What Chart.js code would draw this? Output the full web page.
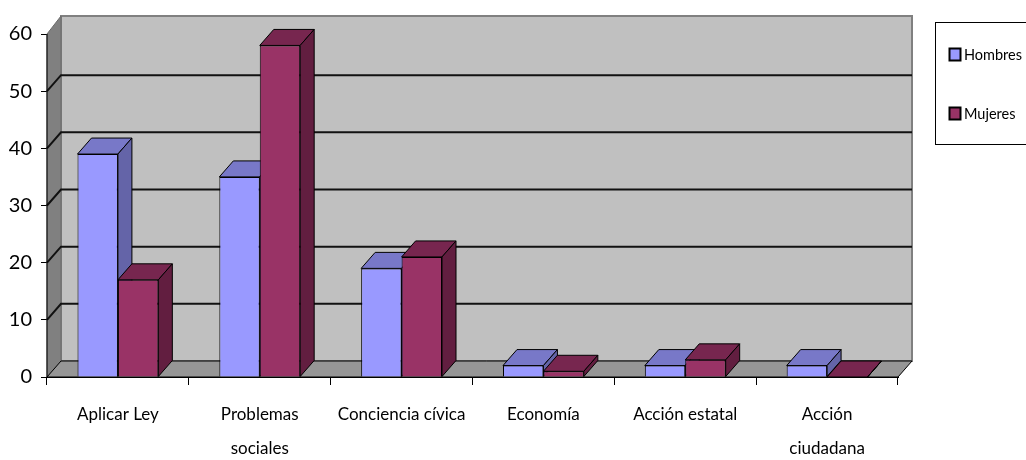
<!DOCTYPE html>
<html>
<head>
<meta charset="utf-8">
<title>Hombres / Mujeres</title>
<script src="https://cdn.jsdelivr.net/npm/chart.js@4/dist/chart.umd.min.js"></script>
<style>
  html, body { margin: 0; padding: 0; background: #fff; }
  #wrap { width: 1026px; height: 460px; }
</style>
</head>
<body>
<div id="wrap"><canvas id="chart" width="1026" height="460"></canvas></div>
<script>
// Data
const categories = [['Aplicar Ley'], ['Problemas', 'sociales'], ['Conciencia cívica'], ['Economía'], ['Acción estatal'], ['Acción', 'ciudadana']];
const seriesNames = ['Hombres', 'Mujeres'];
const hombres = [39, 35, 19, 2, 2, 2];
const mujeres = [17, 58, 21, 1, 3, 0];
const yTicks = [0, 10, 20, 30, 40, 50, 60];

const FONT = 'Lato, "Liberation Sans Narrow", sans-serif';
const DX = 14, DY = 16; // fake 3D depth
const frontColors = ['#9999ff', '#993366'];
const topColors = ['#7878c8', '#77264f'];
const sideColors = ['#6464a8', '#621e40'];

function poly(ctx, pts, fill, stroke, lw) {
    ctx.beginPath();
    ctx.moveTo(pts[0][0], pts[0][1]);
    for (let i = 1; i < pts.length; i++) ctx.lineTo(pts[i][0], pts[i][1]);
    ctx.closePath();
    if (fill) { ctx.fillStyle = fill; ctx.fill(); }
    if (stroke) { ctx.strokeStyle = stroke; ctx.lineWidth = lw || 1; ctx.stroke(); }
}

const depthPlugin = {
    id: 'depth',
    beforeDatasetsDraw(chart) {
        const ctx = chart.ctx;
        const a = chart.chartArea;
        const y = chart.scales.y;
        ctx.save();
        // back wall
        poly(ctx, [[a.left + DX, a.top - DY - 2], [a.right + DX, a.top - DY - 2], [a.right + DX, a.bottom - DY], [a.left + DX, a.bottom - DY]], '#c0c0c0', '#808080', 2);
        // left wall
        poly(ctx, [[a.left, a.bottom], [a.left, a.top], [a.left + DX, a.top - DY - 2], [a.left + DX, a.bottom - DY]], '#808080', '#6a6a6a', 1);
        // floor
        poly(ctx, [[a.left, a.bottom], [a.right, a.bottom], [a.right + DX, a.bottom - DY], [a.left + DX, a.bottom - DY]], '#969696', '#000', 1);
        // gridlines on walls
        ctx.strokeStyle = '#111';
        ctx.lineWidth = 2;
        yTicks.forEach(v => {
            if (v === 0 || v === 60) return;
            const py = y.getPixelForValue(v);
            ctx.beginPath();
            ctx.moveTo(a.left, py);
            ctx.lineTo(a.left + DX, py - DY);
            ctx.lineTo(a.right + DX, py - DY);
            ctx.stroke();
        });
        // front edge of left wall
        ctx.strokeStyle = '#000';
        ctx.lineWidth = 1;
        ctx.beginPath();
        ctx.moveTo(a.left, a.bottom);
        ctx.lineTo(a.left, a.top);
        ctx.stroke();

        // bar tops and sides, back to front per category
        chart.data.labels.forEach((_, i) => {
            chart.data.datasets.forEach((ds, d) => {
                const bar = chart.getDatasetMeta(d).data[i];
                const p = bar.getProps(['x', 'y', 'base', 'width'], true);
                const l = p.x - p.width / 2, r = p.x + p.width / 2;
                poly(ctx, [[l, p.y], [r, p.y], [r + DX, p.y - DY], [l + DX, p.y - DY]], topColors[d], '#000', 1);
                poly(ctx, [[r, p.y], [r + DX, p.y - DY], [r + DX, p.base - DY], [r, p.base]], sideColors[d], '#000', 1);
            });
        });
        ctx.restore();
    },
    afterDraw(chart) {
        // legend box
        const ctx = chart.ctx;
        ctx.save();
        ctx.fillStyle = '#fff';
        ctx.fillRect(935.5, 22.5, 100, 122);
        ctx.strokeStyle = '#000';
        ctx.lineWidth = 1;
        ctx.strokeRect(935.5, 22.5, 100, 122);
        ctx.font = '14.5px ' + FONT;
        ctx.textBaseline = 'middle';
        chart.data.datasets.forEach((ds, d) => {
            const cy = 55 + d * 59;
            ctx.fillStyle = ds.backgroundColor;
            ctx.fillRect(949.5, cy - 6.5, 11, 12);
            ctx.strokeStyle = '#000';
            ctx.lineWidth = 2;
            ctx.strokeRect(949.5, cy - 6.5, 11, 12);
            ctx.fillStyle = '#000';
            ctx.fillText(ds.label, 964, cy);
        });
        ctx.restore();
    }
};

new Chart(document.getElementById('chart'), {
    type: 'bar',
    data: {
        labels: categories,
        datasets: [
            { label: seriesNames[0], data: hombres, backgroundColor: frontColors[0], borderColor: '#000', borderWidth: 1 },
            { label: seriesNames[1], data: mujeres, backgroundColor: frontColors[1], borderColor: '#000', borderWidth: 1 }
        ]
    },
    options: {
        responsive: false,
        animation: false,
        categoryPercentage: 0.57,
        barPercentage: 1,
        layout: { padding: { top: 34, right: 128, left: 0, bottom: 0 } },
        plugins: {
            legend: { display: false },
            tooltip: { enabled: false }
        },
        scales: {
            x: {
                afterFit(scale) { scale.height = 83; },
                grid: { offset: true, drawOnChartArea: false, tickLength: 8, tickColor: '#000' },
                border: { color: '#000', width: 1 },
                ticks: {
                    color: '#000',
                    padding: 13,
                    maxRotation: 0,
                    autoSkip: false,
                    font: { family: FONT, size: 17, lineHeight: 2 }
                }
            },
            y: {
                min: 0,
                max: 60,
                afterFit(scale) { scale.width = 47; },
                afterBuildTicks(scale) { scale.ticks = yTicks.map(v => ({ value: v })); },
                grid: { drawOnChartArea: false, tickLength: 6, tickColor: '#000' },
                border: { color: '#000', width: 1 },
                ticks: {
                    color: '#000',
                    padding: 9,
                    font: { family: FONT, size: 20 }
                }
            }
        }
    },
    plugins: [depthPlugin]
});
</script>
</body>
</html>
